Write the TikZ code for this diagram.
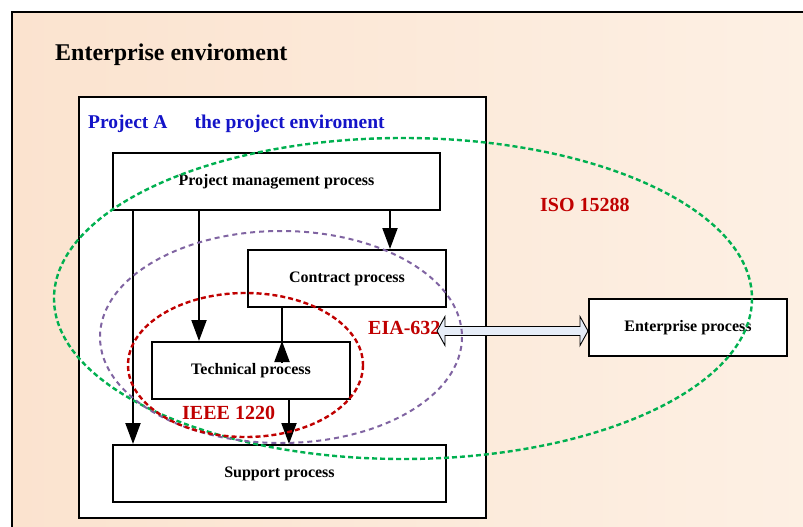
\documentclass[tikz,border=0pt]{standalone}
\usepackage{fontspec}
\setmainfont{Liberation Serif}
\usetikzlibrary{arrows.meta,positioning,calc}

\begin{document}
\begin{tikzpicture}[
  x=1pt, y=-1pt,
  font=\bfseries,
  >={Triangle[length=21pt,width=15pt]},
  proc/.style={draw, line width=2pt, fill=white, minimum width=198pt, minimum height=57pt, inner sep=0pt, font=\fontsize{16}{19}\selectfont\bfseries},
  flow/.style={->, line width=2pt},
  tag/.style={anchor=base west, inner sep=0pt, text=stdred, font=\fontsize{20}{24}\selectfont\bfseries},
  ring/.style={line width=2.4pt, dash pattern=on 5pt off 3pt}
]

\definecolor{peachA}{RGB}{251,227,207}
\definecolor{peachB}{RGB}{253,240,228}
\definecolor{projblue}{RGB}{20,20,200}
\definecolor{stdred}{RGB}{192,0,0}
\definecolor{isogreen}{RGB}{0,176,80}
\definecolor{eiapurple}{RGB}{128,100,162}
\definecolor{linkblue}{RGB}{230,237,248}

\useasboundingbox (0,0) rectangle (803,527);
\clip (0,0) rectangle (803,527);

% enterprise environment
\shade[left color=peachA, right color=peachB] (12,12) rectangle (820,540);
\draw[line width=2pt] (12,12) rectangle (820,540);
\node[anchor=base west, inner sep=0pt, font=\fontsize{24}{28}\selectfont\bfseries] (entenv) at (55,60) {Enterprise enviroment};

% project environment
\node[draw, line width=2pt, fill=white, minimum width=407pt, minimum height=421pt, inner sep=0pt] (projenv) at (282.5,307.5) {};
\node[anchor=base west, inner sep=0pt, text=projblue, font=\fontsize{19.5}{23}\selectfont\bfseries] (projA) at (88,128) {Project A\hspace{1.4em}the project enviroment};

% processes
\node[proc, minimum width=327pt] (pm) at (276.5,181.5) {Project management process};
\node[proc] (contract) at (347,278.5) {Contract process};
\node[proc] (tech) at (251,370.5) {Technical process};
\node[proc, minimum width=333pt] (support) at (279.5,473.5) {Support process};
\node[proc] (ent) at (688,327.5) {Enterprise process};

\draw[flow] ([xshift=21pt]pm.south west) -- ([xshift=21pt]support.north west);
\draw[flow] ([xshift=87pt]pm.south west) -- ([xshift=48pt]tech.north west);
\draw[flow] ([xshift=-51pt]pm.south east) -- ([xshift=143pt]contract.north west);
\draw[line width=2pt] ([xshift=35pt]contract.south west) -- ([xshift=131pt]tech.north west);
\draw[flow] ([xshift=131pt,yshift=-22pt]tech.north west) -- ([xshift=131pt]tech.north west);
\draw[flow] ([xshift=138pt]tech.south west) -- ([xshift=177pt]support.north west);

% standards
\node[tag] (iso) at (540,211) {ISO 15288};
\node[tag] (eia) at (368,334) {EIA-632};
\node[tag] (ieee) at (182,419) {IEEE 1220};

% link to the enterprise
\draw[line width=0.9pt, fill=linkblue] ([yshift=-3.5pt]ent.west) -- ++(-8,-14.5) -- ++(0,10) -- ++(-135,0) -- ++(0,-10)
  -- ++(-8,14.5) -- ++(8,14.5) -- ++(0,-10) -- ++(135,0) -- ++(0,10) -- cycle;

\draw[ring, isogreen] (403,298.5) ellipse [x radius=349, y radius=160.5];
\draw[ring, eiapurple, line width=2pt, dash pattern=on 5pt off 4pt] (281,337) ellipse [x radius=181, y radius=106];
\draw[ring, stdred] (245.5,365) ellipse [x radius=117.5, y radius=72];

\end{tikzpicture}
\end{document}
